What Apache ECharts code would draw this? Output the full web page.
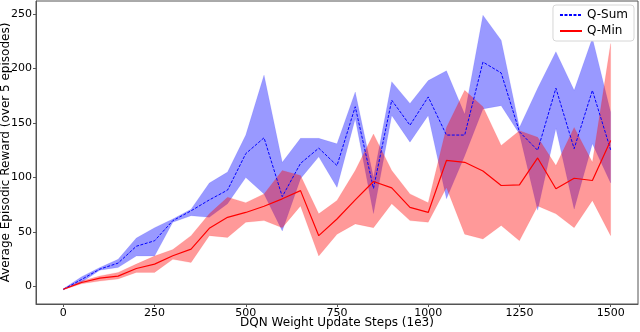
<!DOCTYPE html>
<html>
<head>
<meta charset="utf-8">
<script src="https://cdn.jsdelivr.net/npm/echarts@6/dist/echarts.min.js"></script>
<style>
  html, body { margin: 0; padding: 0; background: #fff; }
  #chart { width: 640px; height: 332px; }
</style>
</head>
<body>
<div id="chart"></div>
<script>
// training steps (1e3)
const steps = [0, 50, 100, 150, 200, 250, 300, 350, 400, 450, 500, 550, 600, 650, 700, 750,
  800, 850, 900, 950, 1000, 1050, 1100, 1150, 1200, 1250, 1300, 1350, 1400, 1450, 1500];

// Q-Sum mean and band
const qSum = [-2.5, 6.5, 16, 21.5, 37, 42, 60.5, 69.5, 79.5, 88.5, 122, 136.5, 82.5, 113, 127, 111,
  165, 90, 171, 148, 174, 139, 139, 206, 196, 142, 125, 182, 126.5, 180, 125.5];
const qSumHi = [-2, 9, 17.5, 25, 44.5, 54, 62, 71, 95, 105, 139, 194, 114, 136, 136, 131,
  178.5, 100, 188, 168, 189, 198, 158, 249, 226, 146, 182, 215.5, 180, 228, 160];
const qSumLo = [-3, 4, 15, 17.5, 28, 28, 59, 65, 63.5, 76, 100, 85, 51, 99, 119, 91,
  154, 67, 157, 132.5, 157, 80.5, 120, 163, 166, 140, 70, 145, 71, 131, 95];

// Q-Min mean and band
const qMin = [-2.5, 3.7, 7.7, 9.6, 16.6, 20.6, 28.3, 34.4, 53.4, 63.5, 68, 73.7, 80.5, 88, 46.7, 62,
  79.5, 96.4, 90.6, 72.7, 68, 115.7, 114, 106, 92.7, 93.3, 118, 89.7, 99.4, 97.3, 134];
const qMinHi = [-2, 5, 9.8, 13, 20.6, 28, 34, 46.7, 66.7, 82, 77, 85, 106.5, 102, 66.7, 79,
  106.5, 140, 106.5, 85, 77, 146, 180, 165, 129.5, 143, 137, 111, 146, 114, 223];
const qMinLo = [-3, 2.5, 5, 7, 13, 13, 25, 22, 46.7, 45, 59, 60.5, 54, 74, 28, 48,
  57.5, 54, 76, 60.5, 59, 91, 48, 43.6, 56, 42, 74, 66.7, 54, 79, 46.7];

const xTicks = [0, 250, 500, 750, 1000, 1250, 1500];
const yTicks = [0, 50, 100, 150, 200, 250];

const pairs = (ys) => steps.map((x, i) => [x, ys[i]]);

// shaded band between lo and hi, drawn as one polygon
function bandSeries(name, hi, lo, color) {
  return {
    name: name,
    type: 'custom',
    silent: true,
    z: 1,
    data: steps.map((x, i) => [x, lo[i], hi[i]]),
    encode: { x: 0, y: [1, 2] },
    renderItem: function (params, api) {
      if (params.dataIndex !== 0) return null;
      const upper = steps.map((x, i) => api.coord([x, hi[i]]));
      const lower = steps.map((x, i) => api.coord([x, lo[i]])).reverse();
      return {
        type: 'polygon',
        shape: { points: upper.concat(lower) },
        style: {
          fill: color,
          opacity: 0.4,
          stroke: color,
          lineWidth: 0.8,
          strokeOpacity: 0.3
        }
      };
    }
  };
}

const font = 'DejaVu Sans';
const chart = echarts.init(document.getElementById('chart'));

const option = {
  animation: false,
  textStyle: { fontFamily: font },
  grid: { left: 36, right: 2, top: 1, bottom: 28, outerBoundsMode: 'none', containLabel: false },
  legend: {
    data: ['Q-Sum', 'Q-Min'],
    orient: 'vertical',
    right: 6,
    top: 5,
    padding: [4, 6, 4, 6],
    itemWidth: 22,
    itemHeight: 10,
    itemGap: 4,
    backgroundColor: '#fff',
    borderColor: '#d6d6d6',
    borderWidth: 1,
    borderRadius: 3,
    itemStyle: { opacity: 0 },
    textStyle: { fontFamily: font, fontSize: 12, color: '#000' }
  },
  xAxis: {
    type: 'value',
    min: -75,
    max: 1575,
    name: 'DQN Weight Update Steps (1e3)',
    nameLocation: 'middle',
    nameMoveOverlap: false,
    nameGap: 13,
    nameTextStyle: { fontFamily: font, fontSize: 12, color: '#000', verticalAlign: 'top' },
    axisLine: { onZero: false, lineStyle: { color: '#555', width: 1 } },
    axisTick: { show: true, length: 3, customValues: xTicks, lineStyle: { color: '#555' } },
    axisLabel: {
      customValues: xTicks, fontSize: 11, color: '#000', margin: 4, fontFamily: font,
      formatter: (v) => String(v)
    },
    splitLine: { show: false }
  },
  yAxis: {
    type: 'value',
    min: -16,
    max: 262,
    name: 'Average Episodic Reward (over 5 episodes)',
    nameLocation: 'middle',
    nameMoveOverlap: false,
    nameGap: 30,
    nameTextStyle: { fontFamily: font, fontSize: 12, color: '#000', verticalAlign: 'middle' },
    axisLine: { show: true, onZero: false, lineStyle: { color: '#555', width: 1 } },
    axisTick: { show: true, length: 3, customValues: yTicks, lineStyle: { color: '#555' } },
    axisLabel: {
      customValues: yTicks, fontSize: 11, color: '#000', margin: 4, fontFamily: font,
      formatter: (v) => String(v)
    },
    splitLine: { show: false }
  },
  series: [
    bandSeries('sum-band', qSumHi, qSumLo, '#0000ff'),
    bandSeries('min-band', qMinHi, qMinLo, '#ff0000'),
    {
      name: 'Q-Sum',
      type: 'line',
      data: pairs(qSum),
      symbol: 'none',
      lineStyle: { color: '#0000ff', width: 1, type: [3, 1.5] },
      itemStyle: { color: '#0000ff' },
      z: 3
    },
    {
      name: 'Q-Min',
      type: 'line',
      data: pairs(qMin),
      symbol: 'none',
      lineStyle: { color: '#ff0000', width: 1.2 },
      itemStyle: { color: '#ff0000' },
      z: 3
    }
  ],
  graphic: [
    // matplotlib-style top and right spines
    {
      type: 'rect',
      shape: { x: 36, y: 1, width: 602, height: 303 },
      style: { fill: 'none', stroke: '#555', lineWidth: 1 },
      silent: true,
      z: 10
    }
  ]
};

chart.setOption(option);
</script>
</body>
</html>
